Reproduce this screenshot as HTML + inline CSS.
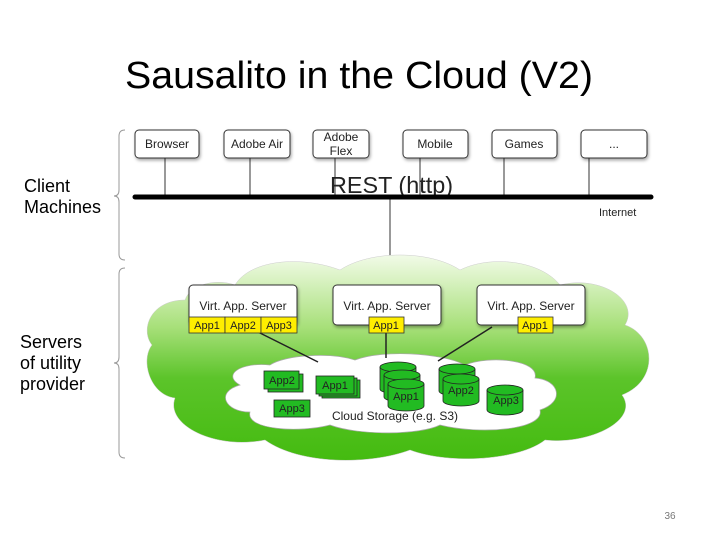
<!DOCTYPE html>
<html><head><meta charset="utf-8"><style>
html,body{margin:0;padding:0;background:#fff;}
svg{display:block;}
text{font-family:"Liberation Sans",sans-serif;}
</style></head><body>
<svg width="720" height="540" viewBox="0 0 720 540" xmlns="http://www.w3.org/2000/svg">
<defs>
<linearGradient id="g" x1="0" y1="0" x2="0" y2="1">
<stop offset="0" stop-color="#f2fbe8"/>
<stop offset="0.35" stop-color="#a8e07a"/>
<stop offset="0.6" stop-color="#5cc42a"/>
<stop offset="1" stop-color="#44bb10"/>
</linearGradient>
<filter id="sh" x="-10%" y="-10%" width="130%" height="140%"><feDropShadow dx="1" dy="2" stdDeviation="1.5" flood-opacity="0.35"/></filter>
</defs>
<text x="125" y="88" font-size="38" textLength="468" lengthAdjust="spacingAndGlyphs">Sausalito in the Cloud (V2)</text>

<!-- brackets -->
<path d="M125 130 Q119 130 119 136 L119 190 Q119 196 114 196 Q119 196 119 202 L119 254 Q119 260 125 260" fill="none" stroke="#999" stroke-width="1"/>
<path d="M125 268 Q119 268 119 274 L119 357 Q119 363 114 363 Q119 363 119 369 L119 452 Q119 458 125 458" fill="none" stroke="#999" stroke-width="1"/>
<text x="24" y="192" font-size="18">Client</text>
<text x="24" y="213" font-size="18">Machines</text>
<text x="20" y="348" font-size="18">Servers</text>
<text x="20" y="369" font-size="18">of utility</text>
<text x="20" y="390" font-size="18">provider</text>

<!-- client boxes -->
<g stroke="#333" stroke-width="1">
<line x1="165" y1="158" x2="165" y2="197"/><line x1="250" y1="158" x2="250" y2="197"/>
<line x1="335" y1="158" x2="335" y2="197"/><line x1="420" y1="158" x2="420" y2="197"/>
<line x1="504" y1="158" x2="504" y2="197"/><line x1="589" y1="158" x2="589" y2="197"/>
<line x1="390" y1="197" x2="390" y2="264"/>
</g>
<g fill="#fff" stroke="#333" stroke-width="1" filter="url(#sh)">
<rect x="135" y="130" width="64" height="28" rx="4"/>
<rect x="224" y="130" width="66" height="28" rx="4"/>
<rect x="313" y="130" width="56" height="28" rx="4"/>
<rect x="403" y="130" width="65" height="28" rx="4"/>
<rect x="492" y="130" width="65" height="28" rx="4"/>
<rect x="581" y="130" width="66" height="28" rx="4"/>
</g>
<g font-size="12" text-anchor="middle" fill="#222">
<text x="167" y="148">Browser</text>
<text x="257" y="148">Adobe Air</text>
<text x="341" y="141">Adobe</text><text x="341" y="155">Flex</text>
<text x="435" y="148">Mobile</text>
<text x="524" y="148">Games</text>
<text x="614" y="148">...</text>
</g>
<text x="330" y="193" font-size="23" textLength="123" lengthAdjust="spacingAndGlyphs" fill="#222">REST (http)</text>
<line x1="135" y1="197" x2="651" y2="197" stroke="#000" stroke-width="5" stroke-linecap="round"/>
<text x="599" y="216" font-size="11" fill="#222">Internet</text>

<!-- cloud -->
<g fill="url(#g)" stroke="#ccc" stroke-width="0.5">
<path d="M185 300 C150 300 140 330 152 345 C140 360 150 395 175 398 C165 425 215 450 265 440 C300 465 370 465 410 450 C450 465 520 460 545 440 C590 445 640 420 622 395 C660 380 655 335 625 325 C640 300 600 275 560 285 C540 260 490 255 460 270 C430 250 370 250 340 270 C300 255 250 260 235 285 C215 278 190 285 185 300 Z"/>
</g>
<!-- inner white cloud -->
<path d="M270 365 C240 362 222 375 240 385 C215 392 225 412 250 412 C245 430 300 433 330 425 C360 436 420 435 440 425 C480 435 545 430 540 410 C565 402 560 380 535 378 C540 360 490 355 465 365 C440 352 380 350 355 360 C330 352 285 355 270 365 Z" fill="#fff" stroke="#aaa" stroke-width="0.7"/>

<!-- connectors -->
<g stroke="#222" stroke-width="1.5">
<line x1="258" y1="332" x2="318" y2="362"/>
<line x1="386" y1="333" x2="386" y2="358"/>
<line x1="492" y1="327" x2="438" y2="361"/>
</g>

<!-- servers -->
<g fill="#fff" stroke="#333" stroke-width="1" filter="url(#sh)">
<rect x="189" y="285" width="108" height="40" rx="4"/>
<rect x="333" y="285" width="108" height="40" rx="4"/>
<rect x="477" y="285" width="108" height="40" rx="4"/>
</g>
<g font-size="12" text-anchor="middle" fill="#222">
<text x="243" y="310">Virt. App. Server</text>
<text x="387" y="310">Virt. App. Server</text>
<text x="531" y="310">Virt. App. Server</text>
</g>
<g fill="#ffee00" stroke="#333" stroke-width="0.8">
<rect x="189" y="317" width="36" height="16"/><rect x="225" y="317" width="36" height="16"/><rect x="261" y="317" width="36" height="16"/>
<rect x="369" y="317" width="35" height="16"/>
<rect x="518" y="317" width="35" height="16"/>
</g>
<g font-size="11" text-anchor="middle" fill="#222">
<text x="207" y="329">App1</text><text x="243" y="329">App2</text><text x="279" y="329">App3</text>
<text x="386" y="329">App1</text><text x="535" y="329">App1</text>
</g>

<!-- storage items -->
<g fill="#22bb22" stroke="#222" stroke-width="0.8">
<rect x="268" y="374" width="35" height="18"/><rect x="264" y="371" width="35" height="18"/>
<rect x="322" y="380" width="38" height="18"/><rect x="319" y="378" width="38" height="18"/><rect x="316" y="376" width="38" height="18"/>
<rect x="274" y="400" width="36" height="17"/>
</g>
<g font-size="11" text-anchor="middle" fill="#222">
<text x="282" y="384">App2</text><text x="335" y="389">App1</text><text x="292" y="412">App3</text>
</g>
<g fill="#22bb22" stroke="#222" stroke-width="0.8">
<path d="M380 367 v22 a18 5 0 0 0 36 0 v-22"/><ellipse cx="398" cy="367" rx="18" ry="5"/>
<path d="M384 375 v22 a18 5 0 0 0 36 0 v-22"/><ellipse cx="402" cy="375" rx="18" ry="5"/>
<path d="M388 384 v22 a18 5 0 0 0 36 0 v-22"/><ellipse cx="406" cy="384" rx="18" ry="5"/>
<path d="M439 369 v22 a18 5 0 0 0 36 0 v-22"/><ellipse cx="457" cy="369" rx="18" ry="5"/>
<path d="M443 379 v22 a18 5 0 0 0 36 0 v-22"/><ellipse cx="461" cy="379" rx="18" ry="5"/>
<path d="M487 390 v20 a18 5 0 0 0 36 0 v-20"/><ellipse cx="505" cy="390" rx="18" ry="5"/>
</g>
<g font-size="11" text-anchor="middle" fill="#222">
<text x="406" y="400">App1</text><text x="461" y="394">App2</text><text x="506" y="404">App3</text>
</g>
<text x="395" y="420" font-size="12" text-anchor="middle" fill="#222">Cloud Storage (e.g. S3)</text>

<text x="670" y="519" font-size="10" text-anchor="middle" fill="#777">36</text>
</svg>
</body></html>
